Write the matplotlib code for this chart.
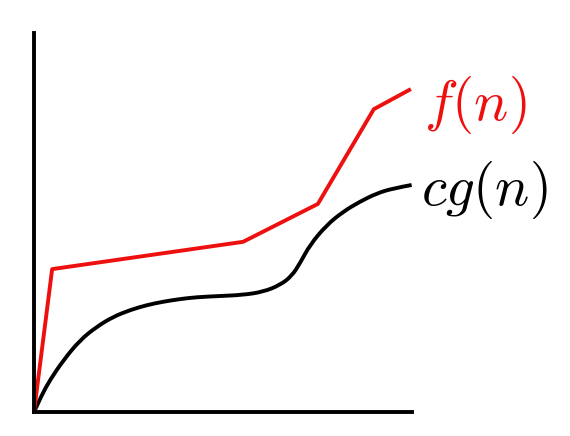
import matplotlib
matplotlib.use("Agg")
import matplotlib.pyplot as plt
from matplotlib.path import Path
from matplotlib.patches import PathPatch

plt.rcParams['mathtext.fontset'] = 'cm'

f_x = [0.0, 0.48, 5.53, 7.51, 8.99, 9.97]
f_y = [0.0, 3.77, 4.49, 5.49, 7.99, 8.52]

g_x = [0.0, 0.20, 0.42, 0.78, 1.22, 1.66, 2.09, 2.54, 2.98, 3.41, 3.86, 4.30, 4.92,
       5.53, 6.06, 6.51, 6.82, 7.04, 7.30, 7.74, 8.17, 8.62, 9.07, 9.50, 9.99]
g_y = [0.0, 0.44, 0.84, 1.37, 1.90, 2.25, 2.51, 2.69, 2.82, 2.91, 2.98, 3.03, 3.06,
       3.09, 3.17, 3.35, 3.59, 3.93, 4.41, 4.93, 5.28, 5.55, 5.77, 5.90, 5.99]

labels = [r'$f(n)$', r'$cg(n)$']

RED = '#ee0f0f'
LW = 2.8

fig = plt.figure(figsize=(5.7, 4.36), dpi=100)
ax = fig.add_axes([34/570, 24/436, 378/570, 379/436])

# smooth curve: quadratic Bezier through midpoints of the read points
pts = list(zip(g_x, g_y))
verts = [pts[0]]
codes = [Path.MOVETO]
for i in range(1, len(pts) - 1):
    mid = ((pts[i][0] + pts[i + 1][0]) / 2, (pts[i][1] + pts[i + 1][1]) / 2)
    if i == len(pts) - 2:
        mid = pts[-1]
    verts += [pts[i], mid]
    codes += [Path.CURVE3, Path.CURVE3]
patch = PathPatch(Path(verts, codes), facecolor='none', edgecolor='black',
                  lw=LW, transform=ax.transData, clip_on=False, capstyle='butt')
ax.add_patch(patch)

ax.plot(f_x, f_y, color=RED, lw=LW, solid_capstyle='butt', clip_on=False)
ax.set_xlim(0, 10)
ax.set_ylim(0, 10)
for s in ['top', 'right']:
    ax.spines[s].set_visible(False)
for s in ['left', 'bottom']:
    ax.spines[s].set_linewidth(2.8)
ax.set_xticks([])
ax.set_yticks([])
ax.text(10.32, 8.1, labels[0], color=RED, fontsize=41, ha='left', va='center', clip_on=False)
ax.text(10.24, 5.86, labels[1], color='black', fontsize=41, ha='left', va='center', clip_on=False)
fig.savefig('out.png', dpi=100)
